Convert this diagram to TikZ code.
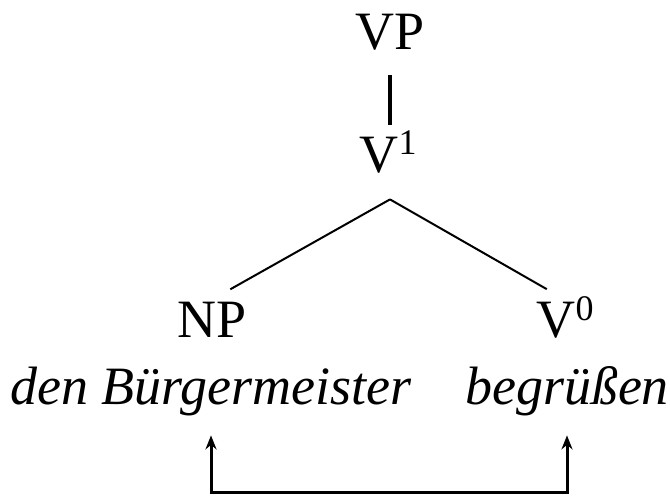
\documentclass[tikz,border=0pt]{standalone}
\usepackage{fontspec}
\setmainfont{Liberation Serif}
\usetikzlibrary{arrows.meta}

% bar level as a raised small numeral
\newcommand{\barlvl}[1]{\raisebox{9pt}{\fontsize{18pt}{18pt}\selectfont #1}}

\begin{document}
\begin{tikzpicture}[x=0.5pt, y=-0.5pt]
      \tikzstyle{cat}=[inner sep=0pt, anchor=base, text height=19pt, text depth=0pt,
        font=\fontsize{27pt}{32pt}\selectfont];
      \tikzstyle{word}=[inner sep=0pt, anchor=base, text height=20pt, text depth=15pt,
        font=\fontsize{27pt}{32pt}\selectfont\itshape];
      \tikzstyle{branch}=[line width=1pt, shorten >=10.5pt];
      \tikzstyle{move}=[line width=1.5pt, {Stealth[length=7pt,width=5.5pt]}-{Stealth[length=7pt,width=5.5pt]}];

      \useasboundingbox (0, 0) rectangle (670, 497);

      % the tree
      \node[cat] (vp) at (390, 50) {VP};
      \node[cat] (v1) at (388, 173) {V\barlvl{1}};
      \node[cat] (np) at (212, 338) {NP};
      \node[cat] (v0) at (565, 338) {V\barlvl{0}};

      \draw[line width=1.6pt, shorten <=12.5pt, shorten >=5pt] (vp.south) -- (vp.south |- v1.north);
      \coordinate (apex) at ([yshift=-13pt]vp.south |- v1.south);
      \draw[branch] (apex) -- (np.north);
      \draw[branch] (apex) -- (v0.north);

      % the words
      \node[word] (obj) at (211, 405) {den Bürgermeister};
      \node[word] (verb) at (567, 405) {begrüßen};

      \coordinate (bar) at (0, 492);
      \draw[move] (obj.south) -- (obj.south |- bar) -| (verb.south);
\end{tikzpicture}
\end{document}
